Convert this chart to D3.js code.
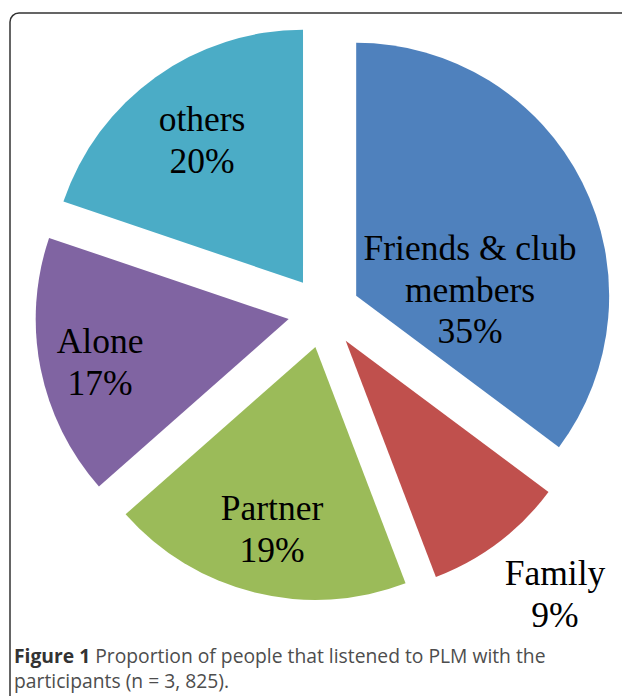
<!DOCTYPE html>
<html lang="en">
<head>
    <meta charset="UTF-8">
    <title>Proportion of people that listened to PLM with the participants</title>
    <style>
        body { margin: 0; background: #fff; }
        svg { display: block; }
    </style>
</head>
<body>
    <svg id="pie" width="622" height="696"></svg>
    <script src="https://d3js.org/d3.v7.min.js"></script>
    <script>
        // data, clockwise from 12 o'clock
        var categories = ["Friends & club members", "Family", "Partner", "Alone", "others"];
        var labelLines = [["Friends & club", "members"], ["Family"], ["Partner"], ["Alone"], ["others"]];
        var shares = [35.2, 9.0, 19.3, 16.7, 19.8];
        var colors = ["#4f81bd", "#c0504d", "#9bbb59", "#8064a2", "#4bacc6"];

        var data = categories.map(function(c, i) {
            return { name: c, lines: labelLines[i], value: shares[i], color: colors[i] };
        });

        // layout
        var cx = 324, cy = 312, radius = 253, explode = 36;
        var labelOffset = [[146, -52], [231, 273], [-52, 208], [-224, 41], [-122, -181]];
        var lineHeight = 41.5;

        var svg = d3.select("#pie");

        // frame
        svg.append("rect")
            .attr("x", 10).attr("y", 13)
            .attr("width", 640).attr("height", 720)
            .attr("rx", 9).attr("ry", 9)
            .attr("fill", "none")
            .attr("stroke", "#333")
            .attr("stroke-width", 1.5);

        var pie = d3.pie().sort(null).value(function(d) { return d.value; });
        var arc = d3.arc().innerRadius(0).outerRadius(radius);
        var arcs = pie(data);

        var g = svg.append("g").attr("transform", "translate(" + cx + "," + cy + ")");

        // exploded slices
        g.selectAll("path.slice")
            .data(arcs)
            .enter().append("path")
            .attr("class", "slice")
            .attr("d", arc)
            .attr("fill", function(d) { return d.data.color; })
            .attr("transform", function(d) {
                var p = d3.pointRadial((d.startAngle + d.endAngle) / 2, explode);
                return "translate(" + p[0] + "," + p[1] + ")";
            });

        var fmt = function(v) { return Math.round(v) + "%"; };

        var labels = g.selectAll("text.label")
            .data(arcs)
            .enter().append("text")
            .attr("class", "label")
            .attr("text-anchor", "middle")
            .style("font-family", "'Liberation Serif', 'Times New Roman', serif")
            .style("font-size", "35.5px")
            .attr("fill", "#000");

        labels.each(function(d, i) {
            var t = d3.select(this);
            var lines = d.data.lines.concat([fmt(d.data.value)]);
            lines.forEach(function(line, k) {
                t.append("tspan")
                    .attr("x", labelOffset[i][0])
                    .attr("y", labelOffset[i][1] + k * lineHeight)
                    .text(line);
            });
        });

        // caption
        var cap = svg.append("text")
            .attr("x", 14)
            .attr("y", 663)
            .style("font-family", "'Open Sans', 'Noto Sans', sans-serif")
            .style("font-size", "19.3px")
            .attr("fill", "#4d4d4d");
        cap.append("tspan").style("font-weight", "bold").attr("fill", "#333").text("Figure 1");
        cap.append("tspan").text(" Proportion of people that listened to PLM with the");
        svg.append("text")
            .attr("x", 14)
            .attr("y", 688)
            .style("font-family", "'Open Sans', 'Noto Sans', sans-serif")
            .style("font-size", "19.3px")
            .attr("fill", "#4d4d4d")
            .text("participants (n = 3, 825).");
    </script>
</body>
</html>
